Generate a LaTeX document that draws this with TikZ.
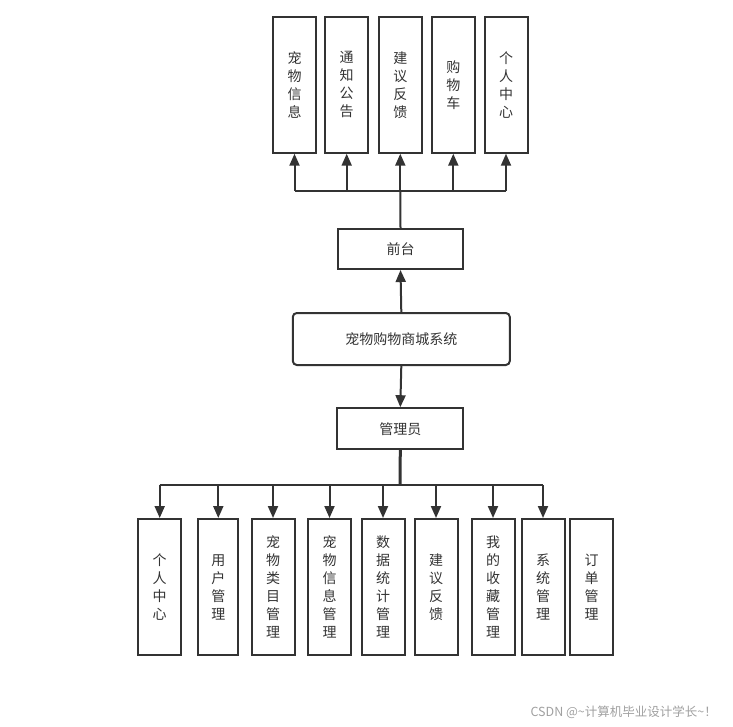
\documentclass[tikz,border=0pt]{standalone}
\usepackage{fontspec}
\setmainfont{Noto Sans CJK SC}
\usetikzlibrary{arrows.meta}
\definecolor{ln}{HTML}{333333}
\definecolor{tx}{HTML}{333333}
\definecolor{wm}{HTML}{A0A0A0}
\tikzset{
  vbox/.style={draw=ln, line width=2pt, rectangle, minimum width=43pt, minimum height=136pt, inner sep=0pt, align=center, text=tx, font=\fontsize{14}{18}\selectfont},
  hbox/.style={draw=ln, line width=2pt, rectangle, minimum width=125pt, minimum height=40pt, inner sep=0pt, text=tx, font=\fontsize{14}{16}\selectfont},
  conn/.style={draw=ln, line width=2pt},
  arr/.style={draw=ln, line width=2pt, -{Triangle[length=12pt,width=10pt]}},
}
\begin{document}
\begin{tikzpicture}[x=1pt,y=-1pt]
\useasboundingbox (0,0) rectangle (733,726);
% top boxes
\node[vbox] (t1) at (294.5,84.7) {宠\\物\\信\\息};
\node[vbox] (t2) at (346.7,84.7) {通\\知\\公\\告};
\node[vbox] (t3) at (400.3,84.7) {建\\议\\反\\馈};
\node[vbox] (t4) at (453.3,84.7) {购\\物\\车};
\node[vbox] (t5) at (506,84.7) {个\\人\\中\\心};
% middle
\node[hbox] (qt) at (400.5,249) {前台};
\node[hbox, minimum width=217pt, minimum height=52pt, rounded corners=4pt] (sys) at (401.3,339) {宠物购物商城系统};
\node[hbox, minimum width=126pt, minimum height=41pt] (gly) at (400.3,428.7) {管理员};
% bottom boxes
\node[vbox] (b1) at (159.7,587) {个\\人\\中\\心};
\node[vbox, minimum width=40pt] (b2) at (218.3,587) {用\\户\\管\\理};
\node[vbox] (b3) at (273,587) {宠\\物\\类\\目\\管\\理};
\node[vbox] (b4) at (329.5,587) {宠\\物\\信\\息\\管\\理};
\node[vbox] (b5) at (383,587) {数\\据\\统\\计\\管\\理};
\node[vbox] (b6) at (436,587) {建\\议\\反\\馈};
\node[vbox] (b7) at (493,587) {我\\的\\收\\藏\\管\\理};
\node[vbox] (b8) at (543,587) {系\\统\\管\\理};
\node[vbox] (b9) at (591.7,587) {订\\单\\管\\理};
% top connectors
\coordinate (tbus) at (400.3,190.7);
\draw[conn] (qt.north) -- (tbus);
\draw[conn] (tbus -| t1.south) -- (tbus -| t5.south);
\foreach \n in {t1,t2,t3,t4,t5} \draw[arr] (tbus -| \n.south) -- (\n.south);
% system connectors
\draw[arr] (sys.north) -- (qt.south);
\draw[arr] (sys.south) -- (gly.north);
% bottom connectors
\coordinate (bbus) at (400,485);
\draw[draw=ln, line width=3pt] (gly.south) -- (bbus);
\draw[conn] (bbus -| b1.north) -- (bbus -| b8.north);
\foreach \n in {b1,b2,b3,b4,b5,b6,b7,b8} \draw[arr] (bbus -| \n.north) -- (\n.north);
% watermark
\node[text=wm, font=\fontsize{12.5}{14}\selectfont, anchor=east, inner sep=0pt] (wmk) at (717,712) {CSDN @\textasciitilde 计算机毕业设计学长\textasciitilde ！};
\end{tikzpicture}
\end{document}
